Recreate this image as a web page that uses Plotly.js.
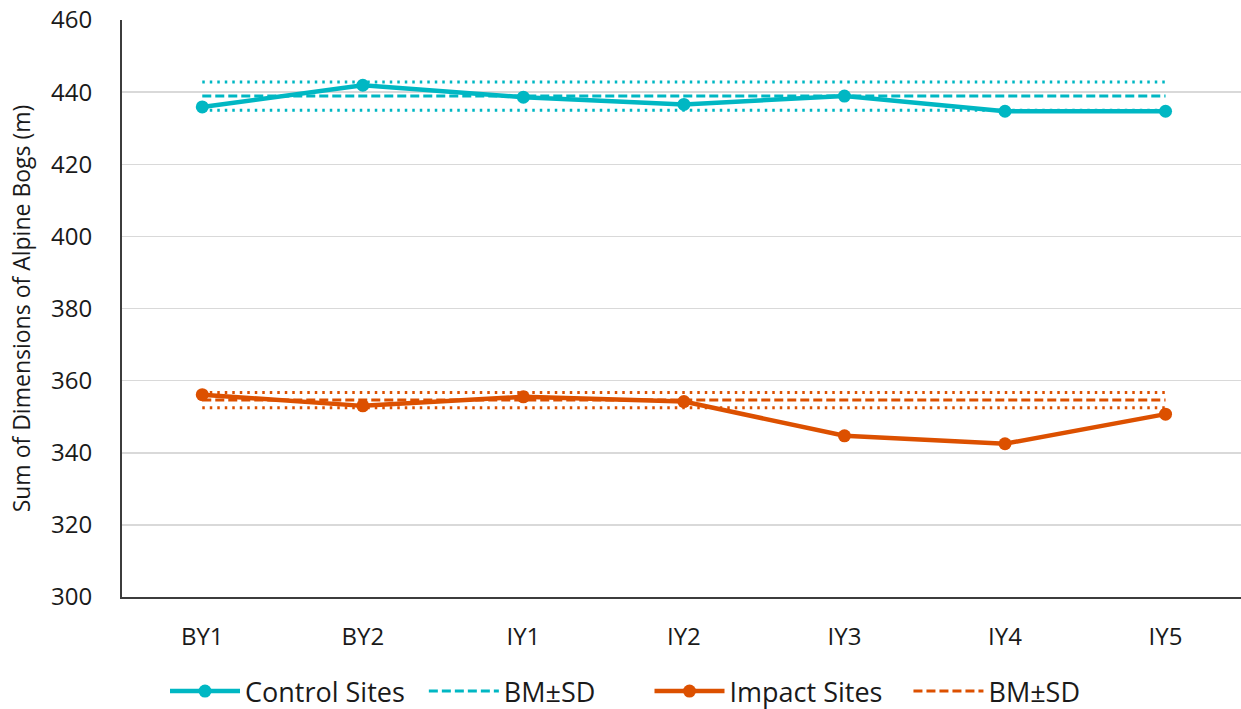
<!DOCTYPE html>
<html>
<head>
<meta charset="utf-8">
<script src="https://cdn.plot.ly/plotly-3.0.1.min.js"></script>
<style>html,body{margin:0;padding:0;background:#fff;}#chart{width:1241px;height:709px;}</style>
</head>
<body>
<div id="chart"></div>
<script>
const categories = ["BY1","BY2","IY1","IY2","IY3","IY4","IY5"];
const controlSites = [435.9, 441.9, 438.6, 436.6, 438.9, 434.7, 434.7];
const controlBM = 438.9;
const controlSD = 3.9;
const impactSites = [356.1, 353.0, 355.5, 354.2, 344.7, 342.5, 350.7];
const impactBM = 354.6;
const impactSD = 2.1;
const seriesNames = ["Control Sites", "BM±SD", "Impact Sites", "BM±SD"];

const teal = "#00b7c3";
const orange = "#dc5000";
const flat = v => categories.map(() => v);
const pad = (s, n) => s + "\u00a0".repeat(n);
const dotDash = "2.5px,5px";
const dashDash = "9px,4px";
const txt = "#1a1a1a";

const traces = [
  {x: categories, y: flat(controlBM + controlSD), mode: "lines", line: {color: teal, width: 3, dash: dotDash}, showlegend: false, hoverinfo: "skip"},
  {x: categories, y: flat(controlBM - controlSD), mode: "lines", line: {color: teal, width: 3, dash: dotDash}, showlegend: false, hoverinfo: "skip"},
  {x: categories, y: flat(controlBM), mode: "lines", name: pad(seriesNames[1], 7), legendrank: 2, line: {color: teal, width: 3, dash: dashDash}},
  {x: categories, y: flat(impactBM + impactSD), mode: "lines", line: {color: orange, width: 3, dash: dotDash}, showlegend: false, hoverinfo: "skip"},
  {x: categories, y: flat(impactBM - impactSD), mode: "lines", line: {color: orange, width: 3, dash: dotDash}, showlegend: false, hoverinfo: "skip"},
  {x: categories, y: flat(impactBM), mode: "lines", name: seriesNames[3], legendrank: 4, line: {color: orange, width: 3, dash: dashDash}},
  {x: categories, y: controlSites, mode: "lines+markers", name: pad(seriesNames[0], 2), legendrank: 1, line: {color: teal, width: 4.5}, marker: {color: teal, size: 13}},
  {x: categories, y: impactSites, mode: "lines+markers", name: pad(seriesNames[2], 3), legendrank: 3, line: {color: orange, width: 4.5}, marker: {color: orange, size: 13}}
];

const layout = {
  width: 1241, height: 709,
  margin: {l: 122, r: 0, t: 20, b: 112},
  paper_bgcolor: "#fff", plot_bgcolor: "#fff",
  font: {family: "Open Sans, Noto Sans, sans-serif", size: 24, color: txt},
  xaxis: {
    type: "category", range: [-0.5, 6.47],
    showgrid: false, zeroline: false,
    showline: true, linecolor: "#3c3c3c", linewidth: 2,
    ticks: "", ticklabelstandoff: 17,
    tickfont: {size: 24, color: txt}
  },
  yaxis: {
    range: [300, 460], dtick: 20, tick0: 300,
    showgrid: true, gridcolor: "#d9d9d9", gridwidth: 1.5,
    zeroline: false, showline: true, linecolor: "#3c3c3c", linewidth: 2,
    ticks: "", ticklabelstandoff: 23,
    tickfont: {size: 24, color: txt},
    title: {text: "Sum of Dimensions of Alpine Bogs (m)", font: {size: 23, color: txt}, standoff: 14}
  },
  legend: {
    orientation: "h", xref: "container", yref: "container",
    x: 165 / 1241, xanchor: "left", y: (709 - 667) / 709, yanchor: "top",
    font: {size: 27, color: txt}, itemwidth: 70, traceorder: "normal"
  },
  showlegend: true
};

Plotly.newPlot("chart", traces, layout, {displayModeBar: false, staticPlot: true});
</script>
</body>
</html>
